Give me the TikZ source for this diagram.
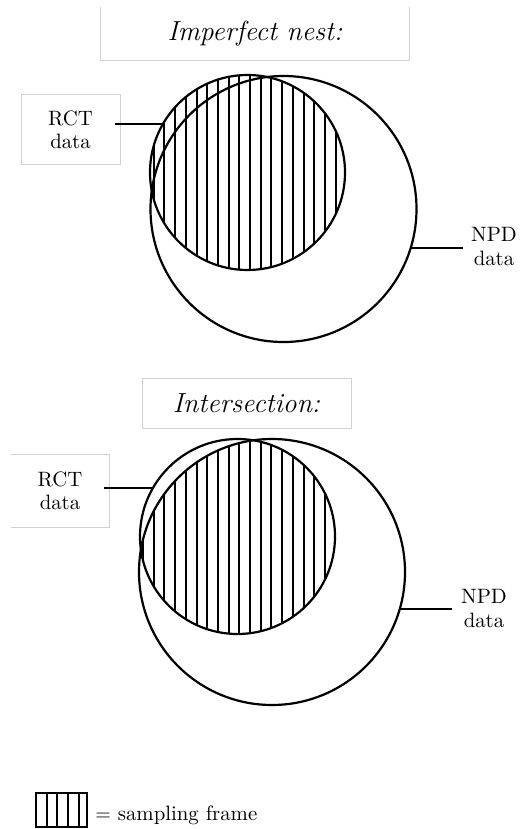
\documentclass[tikz,border=0pt]{standalone}
\begin{document}
\begin{tikzpicture}[x=0.5pt,y=-0.5pt,
  outline/.style={circle,draw,line width=1.1pt,inner sep=0pt,outer sep=0pt},
  lbl/.style={align=center,font=\fontsize{10.4}{11.7}\selectfont},
  greybox/.style={draw=black!18,line width=0.5pt},
  ttl/.style={font=\fontsize{13.8}{16}\selectfont\itshape,inner sep=0pt},
  conn/.style={line width=1.1pt},
  hatch/.style={line width=1pt}]
\useasboundingbox (0,0) rectangle (519,829);

% ---------- top panel: imperfect nest ----------
\begin{scope}
  \clip (247.5,172.5) circle[radius=48.75pt];
  \foreach \k in {0,...,30} \draw[hatch] ({46.7+10.7*\k},60) -- ({46.7+10.7*\k},290);
\end{scope}
\node[outline,minimum size=97.5pt] (R1) at (247.5,172.5) {};
\node[outline,minimum size=133pt] (N1) at (283.5,209) {};

\node[ttl,minimum width=154pt,minimum height=26.5pt] (T1) at (255,33.5) {Imperfect nest:};
\draw[greybox] (T1.north west) -- (T1.south west) -- (T1.south east) -- (T1.north east);

\node[lbl,greybox,minimum width=49.5pt,minimum height=34.5pt] (B1) at (70.5,129.5) {RCT\\data};
\node[lbl,inner sep=4pt] (L1) at (494,246.5) {NPD\\data};
\draw[conn] (R1.150) -- ([xshift=-2.75pt]R1.150 -| B1.east);
\draw[conn] (N1.-17) -- (N1.-17 -| L1.west);

% ---------- bottom panel: intersection ----------
\begin{scope}
  \clip (237.5,536.5) circle[radius=48.75pt];
  \clip (272,572) circle[radius=66.5pt];
  \foreach \k in {0,...,30} \draw[hatch] ({46.7+10.7*\k},420) -- ({46.7+10.7*\k},660);
\end{scope}
\node[outline,minimum size=97.5pt] (R2) at (237.5,536.5) {};
\node[outline,minimum size=133pt] (N2) at (272,572) {};

\node[ttl,greybox,minimum width=104.5pt,minimum height=25pt] (T2) at (246.5,403) {Intersection:};

\node[lbl,minimum width=49pt,minimum height=36pt] (B2) at (60,491) {RCT\\data};
\draw[greybox] (B2.south west) -- (B2.south east) -- (B2.north east) -- (B2.north west);
\node[lbl,inner sep=4.5pt] (L2) at (484,608.5) {NPD\\data};
\draw[conn] (R2.150) -- ([xshift=-2.5pt]R2.150 -| B2.east);
\draw[conn] (N2.-16) -- (N2.-16 -| L2.west);

% ---------- legend ----------
\node[minimum width=25.5pt,minimum height=17pt,inner sep=0pt,outer sep=0pt] (leg) at (61.5,810) {};
\foreach \k in {0,...,3} \draw[hatch] ({46.7+10.7*\k},793) -- ({46.7+10.7*\k},827);
\draw[line width=1.1pt] (leg.north west) rectangle (leg.south east);
\node[anchor=base west,inner sep=0pt,font=\fontsize{10.4}{12}\selectfont] (legtxt) at (95,820) {$=$ sampling frame};
\end{tikzpicture}
\end{document}
